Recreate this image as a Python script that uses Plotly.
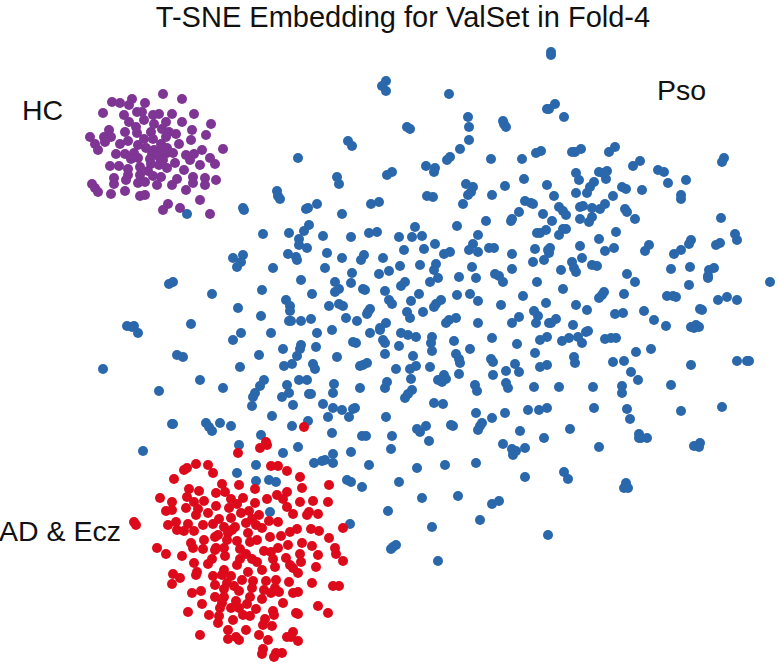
import plotly.graph_objects as go

TITLE = "T-SNE Embedding for ValSet in Fold-4"
class_names = ["HC", "Pso", "AD & Ecz"]

hc_points = [(163,94),(182,99),(132,99),(112,102),(120,103),(129,105),(145,103),(103,113),(124,115),(137,112),(142,112),(153,115),(159,114),(172,114),(194,114),(129,122),(144,120),(182,122),(211,124),(166,122),(154,124),(136,127),(162,129),(192,130),(109,130),(125,132),(151,132),(137,133),(169,132),(176,134),(206,135),(90,137),(104,137),(111,137),(166,137),(153,139),(191,140),(144,139),(105,142),(128,141),(95,144),(120,144),(138,145),(161,144),(179,144),(98,150),(146,148),(167,148),(223,149),(202,150),(116,154),(125,154),(134,153),(152,154),(159,153),(167,153),(173,153),(186,155),(194,154),(131,159),(138,158),(150,159),(160,158),(190,160),(210,158),(175,163),(215,164),(110,166),(119,166),(140,167),(151,164),(159,165),(200,165),(167,168),(148,171),(184,170),(128,169),(128,175),(140,175),(153,176),(161,177),(177,179),(193,177),(205,178),(216,180),(114,178),(126,180),(114,184),(92,184),(138,183),(145,182),(193,183),(172,185),(157,185),(205,185),(95,188),(98,192),(125,191),(186,190),(111,194),(140,196),(145,195),(200,200),(168,204),(163,210),(180,208),(210,214),(154,150),(157,155),(162,151),(163,160)]

ad_points = [(304,427),(266,442),(267,445),(260,448),(238,453),(196,464),(208,465),(184,470),(187,468),(213,473),(271,466),(278,466),(287,471),(174,479),(300,477),(222,484),(239,485),(189,489),(255,489),(302,488),(329,485),(199,491),(216,493),(225,492),(287,492),(277,495),(160,498),(187,497),(231,499),(243,498),(267,499),(283,499),(172,502),(194,502),(204,501),(237,504),(255,503),(300,502),(313,501),(328,502),(216,506),(287,507),(186,508),(198,509),(229,508),(166,511),(172,510),(249,511),(241,513),(208,513),(259,515),(293,514),(309,512),(307,515),(318,514),(196,515),(231,518),(219,519),(252,519),(269,521),(134,522),(136,525),(176,522),(168,525),(188,524),(203,525),(213,524),(246,523),(278,522),(256,525),(262,528),(224,527),(235,527),(177,530),(184,531),(194,531),(232,530),(290,532),(297,529),(311,529),(319,531),(343,528),(228,533),(248,533),(281,536),(218,535),(215,537),(270,537),(329,538),(227,540),(257,540),(204,540),(237,541),(250,542),(191,543),(288,545),(302,543),(312,546),(157,548),(193,548),(203,549),(216,548),(224,548),(240,549),(335,548),(166,554),(182,556),(215,550),(225,556),(246,554),(264,551),(271,552),(278,548),(336,554),(318,555),(300,554),(286,558),(273,559),(240,559),(212,559),(301,562),(252,559),(257,562),(208,564),(237,565),(194,563),(290,565),(275,567),(343,561),(316,567),(293,568),(262,570),(224,570),(298,573),(248,572),(173,574),(197,572),(196,575),(222,575),(213,576),(231,576),(180,578),(242,580),(253,581),(266,581),(276,580),(289,582),(312,583),(227,583),(215,585),(172,584),(234,586),(333,586),(339,586),(224,589),(252,588),(264,590),(275,588),(239,591),(201,591),(192,593),(271,593),(279,592),(293,593),(298,592),(215,597),(224,597),(250,597),(262,599),(236,601),(247,604),(283,603),(202,604),(222,603),(220,608),(318,606),(231,608),(239,608),(256,609),(188,612),(273,611),(328,613),(296,613),(298,614),(243,615),(209,615),(274,615),(219,616),(250,616),(233,620),(265,619),(218,623),(263,625),(272,626),(246,630),(228,630),(293,632),(200,635),(259,635),(236,637),(287,637),(291,637),(228,639),(239,640),(268,640),(298,641),(263,649),(262,654),(282,653),(276,653),(274,657)]

pso_points = [(173,424),(206,423),(209,427),(212,431),(220,423),(231,426),(292,426),(308,421),(332,433),(261,435),(239,445),(298,447),(143,451),(283,453),(351,452),(333,454),(314,463),(322,461),(325,460),(333,463),(256,465),(237,473),(256,481),(269,480),(276,482),(347,480),(351,482),(270,512),(350,524),
(187,214),(243,208),(244,210),(277,191),(278,196),(280,199),(308,208),(306,209),(317,204),(309,225),(304,231),(289,233),(263,234),(299,239),(299,245),(307,248),(288,254),(243,255),(233,258),(296,257),(297,260),(241,262),(237,267),(273,268),(301,280),(173,282),(169,284),(262,290),(212,294),(312,294),(286,300),(238,308),(290,306),(290,311),(261,316),(311,319),(289,321),(291,321),(301,321),(191,324),(127,326),(134,326),(132,327),
(138,333),(241,333),(233,340),(271,333),(317,333),(283,349),(301,345),(300,349),(316,347),(259,355),(297,356),(177,355),(183,357),(240,367),(284,366),(292,364),(313,364),(315,369),(103,369),(200,380),(299,380),(307,380),(264,380),(260,386),(287,385),(223,388),(159,391),(289,393),(309,394),(255,393),(253,397),(282,397),(293,405),(252,406),(272,416),(172,424),(298,158),
(386,81),(382,86),(386,91),(449,94),(551,52),(551,55),(468,117),(547,109),(469,127),(503,121),(504,124),(506,127),(407,127),(410,129),(469,140),(348,141),(352,146),(460,149),(541,151),(536,153),(450,157),(447,160),(491,159),(522,159),(426,166),(435,168),(434,172),(392,172),(387,175),(337,177),(339,184),(524,179),(466,184),(473,187),(505,186),(547,185),
(471,192),(468,195),(492,195),(427,196),(433,197),(371,204),(379,202),(463,204),(525,201),(533,204),(531,203),(342,214),(519,212),(543,214),(486,221),(512,219),(511,221),(457,226),(415,227),(323,236),(351,237),(369,233),(377,232),(399,237),(412,237),(422,236),(478,235),(546,230),(537,233),(540,233),(435,244),(473,244),(404,250),(424,249),(469,250),(478,252),(489,248),(494,248),(535,249),(548,250),(327,253),(512,254),(444,254),(450,252),(364,255),(361,260),(342,258),(383,258),(533,262),(544,260),(436,264),(420,265),(400,266),(325,268),(472,267),(512,269),(434,270),(389,271),(352,273),(379,274),(495,274),(499,276),(459,277),(438,278),(476,278),(503,282),(335,282),(430,282),(537,282),(351,283),(405,282),(401,286),(339,289),(335,292),(363,289),(365,290),(385,291),(419,294),(457,295),(470,294),(523,296),(389,300),(411,301),(478,301),(441,300),(339,304),(343,306),(329,306),(392,304),(546,303),(501,305),(436,304),(434,307),(370,309),(368,312),(367,314),(407,312),(423,312),(534,311),(538,316),(519,317),(346,318),(357,321),(410,318),(456,318),(449,320),(446,323),(386,323),(478,323),(512,323),(536,323),(549,323),(332,330),(380,328),
(370,333),(380,330),(401,333),(408,335),(416,337),(432,337),(431,343),(432,351),(454,341),(492,338),(383,340),(385,343),(353,342),(356,343),(399,346),(517,344),(540,340),(547,337),(470,349),(535,353),(385,354),(413,356),(337,357),(456,354),(459,359),(460,363),(491,359),(493,362),(367,363),(363,365),(360,366),(416,366),(410,369),(396,369),(430,367),(540,367),(547,365),(515,364),(506,371),(519,372),(459,374),(493,375),(411,379),(444,375),(438,380),(442,379),(442,382),(446,379),(387,382),(334,384),(475,385),(506,383),(477,391),(508,388),(360,388),(385,388),(412,390),(534,387),(333,393),(408,394),(405,398),(311,394),(323,404),(434,403),(443,404),(333,408),(342,410),(355,408),(353,409),(528,410),(539,410),(547,408),(476,413),(505,413),(386,417),(328,417),(349,417),(492,418),(482,423),(426,426),(451,425),(453,426),(417,429),(420,432),(480,426),(478,430),(520,431),(362,436),(366,436),(392,436),(429,441),(544,438),(503,444),(512,449),(525,448),(391,449),
(513,451),(516,451),(513,455),(369,465),(417,468),(445,465),(476,463),(525,477),(362,487),(399,482),(422,498),(458,496),(499,501),(492,504),(388,511),(480,520),(432,527),(548,535),(396,545),(391,549),(393,547),(438,561),
(555,104),(549,109),(564,117),(581,149),(575,152),(572,152),(615,147),(609,152),(640,161),(633,166),(658,170),(664,172),(724,158),(722,162),(576,173),(579,180),(599,172),(607,171),(603,173),(606,179),(686,180),(668,183),(594,182),(590,187),(622,187),(626,189),(642,190),
(587,193),(554,196),(576,193),(613,196),(681,195),(681,199),(559,207),(563,211),(566,215),(580,207),(583,206),(592,208),(600,209),(605,204),(625,209),(627,212),(552,221),(580,219),(592,217),(589,222),(635,219),(721,218),(559,235),(563,229),(566,229),(616,232),(599,239),(735,234),(737,240),(691,240),(689,244),(720,243),(716,245),(580,246),(649,245),(645,251),(614,248),(605,251),(681,250),(674,254),(550,248),(549,253),(582,258),(572,262),(574,268),(576,272),(592,265),(597,266),(561,270),(671,269),(690,267),(714,268),(709,270),(708,276),(708,278),(627,274),(635,282),(770,282),(689,285),(563,289),(604,292),(602,295),(599,298),(624,294),(667,296),(673,296),(676,297),(718,300),(727,297),(737,300),(576,305),(587,310),(700,309),(702,310),(644,311),(615,314),(623,313),(654,320),(666,326),(556,319),(551,323),(573,325),(691,327),(696,325),(699,327),(694,328),
(588,331),(586,332),(562,341),(569,338),(578,337),(582,343),(605,339),(611,338),(616,338),(651,349),(636,352),(574,357),(575,363),(613,362),(624,361),(737,361),(747,361),(749,361),(691,365),(631,372),(638,380),(671,385),(559,387),(593,387),(622,386),(622,393),(594,408),(627,409),(681,411),(722,407),(630,419),(570,429),(639,434),(639,438),(641,438),(647,438),(599,447),(694,446),(700,443),(699,447),(564,472),(568,479),(626,483),(624,488),(628,488)]

label_x = [42, 681, 60]
label_y = [110, 90, 531]

pso_x, pso_y = zip(*pso_points)
hc_x, hc_y = zip(*hc_points)
ad_x, ad_y = zip(*ad_points)

fig = go.Figure()
for name, xs, ys, color in [
    ("Pso", pso_x, pso_y, "#2A68AB"),
    ("HC", hc_x, hc_y, "#7F3594"),
    ("AD & Ecz", ad_x, ad_y, "#DD0A1B"),
]:
    fig.add_trace(go.Scatter(x=xs, y=ys, mode="markers", name=name,
                             marker=dict(size=10, color=color, line=dict(width=0))))

for t, x, y in zip(class_names, label_x, label_y):
    fig.add_annotation(x=x, y=y, text=t, showarrow=False, xref="x", yref="y",
                       font=dict(family="Liberation Sans", size=28.5, color="#111111"))

fig.update_layout(
    width=781, height=670, margin=dict(l=0, r=0, t=0, b=0),
    paper_bgcolor="white", plot_bgcolor="white", showlegend=False,
    title=dict(text=TITLE, x=0.516, xanchor="center", y=0.975, yanchor="middle",
               font=dict(family="Liberation Sans", size=29, color="#111111")),
    xaxis=dict(range=[0, 781], visible=False, fixedrange=True),
    yaxis=dict(range=[670, 0], visible=False, fixedrange=True),
)
fig.write_html("out.html", config={"displayModeBar": False},
               post_script="document.body.style.margin='0';document.documentElement.style.overflow='hidden';")
